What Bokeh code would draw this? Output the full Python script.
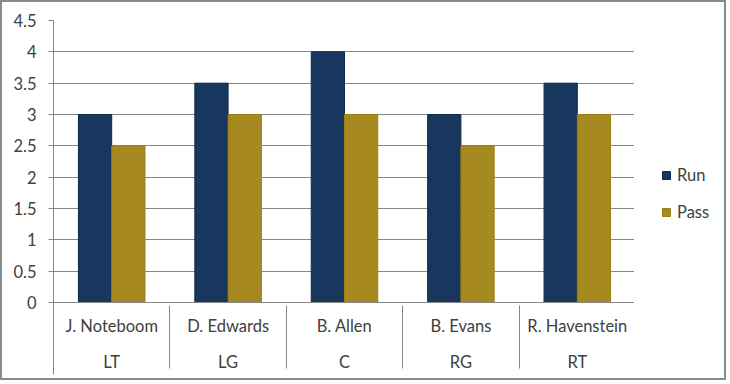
from bokeh.plotting import figure
from bokeh.layouts import row
from bokeh.models import (FactorRange, Range1d, LinearAxis, CategoricalAxis, FixedTicker,
                          NumeralTickFormatter, Legend, LegendItem, ColumnDataSource, Grid)
from bokeh.transform import dodge
from bokeh.embed import file_html
from bokeh.resources import INLINE

# ---- data ----
players = ["J. Noteboom", "D. Edwards", "B. Allen", "B. Evans", "R. Havenstein"]
positions = ["LT", "LG", "C", "RG", "RT"]
run_grades = [3, 3.5, 4, 3, 3.5]
pass_grades = [2.5, 3, 3, 2.5, 3]
series_names = ["Run", "Pass"]
y_ticks = [0, 0.5, 1, 1.5, 2, 2.5, 3, 3.5, 4, 4.5]

# ---- style ----
FONT = "Lato"
FS = "16.5px"
TXT = "#404040"
GRAY = "#868686"
BORDER = "2px solid #8a8a8a"
RUN_FILL, RUN_EDGE = "#17375E", "#0E2950"
PASS_FILL, PASS_EDGE = "#A6891F", "#9A7E12"
W = 1 / 3.5

factors = list(zip(positions, players))
src = ColumnDataSource(dict(x=factors, run=run_grades, pas=pass_grades))

# ---------------- main chart ----------------
p = figure(width=634, height=380,
           x_range=FactorRange(factors=factors, group_padding=0, factor_padding=0, range_padding=0),
           y_range=Range1d(0, y_ticks[-1]),
           output_backend="svg", toolbar_location=None,
           x_axis_location=None, y_axis_location=None,
           min_border_left=51, min_border_right=1, min_border_top=18, min_border_bottom=80,
           background_fill_color="white", border_fill_color="white", outline_line_color=None)
p.styles = {"border-left": BORDER, "border-top": BORDER, "border-bottom": BORDER}
p.center = [r for r in p.center if not isinstance(r, Grid)]

grid = Grid(dimension=1, ticker=FixedTicker(ticks=y_ticks), grid_line_color=GRAY, grid_line_width=1)
p.add_layout(grid)

yax = LinearAxis(ticker=FixedTicker(ticks=y_ticks), formatter=NumeralTickFormatter(format="0.[0]"),
                 axis_line_color=GRAY, major_tick_line_color=GRAY, major_tick_out=5, major_tick_in=0,
                 minor_tick_line_color=None, major_label_standoff=12,
                 major_label_text_font=FONT, major_label_text_font_size=FS,
                 major_label_text_color=TXT)
p.add_layout(yax, "left")

xax = CategoricalAxis(axis_line_color=GRAY, major_tick_line_color=None, major_tick_in=0,
                      major_tick_out=0, minor_tick_line_color=None, major_label_standoff=13,
                      major_label_text_font=FONT, major_label_text_font_size=FS,
                      major_label_text_color=TXT,
                      group_text_font=FONT, group_text_font_size=FS, group_text_color=TXT,
                      group_text_font_style="normal",
                      separator_line_color=GRAY, separator_line_width=1)
p.add_layout(xax, "below")

# outer boundary lines of the category table (synthetic coordinates 0 and n)
sep = LinearAxis(ticker=FixedTicker(ticks=[0, len(players)]),
                 axis_line_color=None, major_tick_line_color=GRAY, major_tick_line_width=1,
                 major_tick_in=73, major_tick_out=0, minor_tick_line_color=None,
                 major_label_text_color=None, major_label_standoff=0)
p.add_layout(sep, "below")

p.vbar(x=dodge("x", -W / 2, range=p.x_range), top="run", width=W, source=src,
       fill_color=RUN_FILL, line_color=RUN_EDGE, line_width=1)
p.vbar(x=dodge("x", W / 2, range=p.x_range), top="pas", width=W, source=src,
       fill_color=PASS_FILL, line_color=PASS_EDGE, line_width=1)

# ---------------- legend panel ----------------
# key glyphs reuse the same series but are hidden; only their legend swatches show
lp = figure(width=92, height=380,
            x_range=FactorRange(factors=factors, group_padding=0, factor_padding=0, range_padding=0),
            y_range=Range1d(-2, -1),
            output_backend="svg", toolbar_location=None,
            x_axis_location=None, y_axis_location=None,
            min_border=0, min_border_left=0, min_border_right=0, min_border_top=0,
            min_border_bottom=0, background_fill_color="white", border_fill_color="white",
            outline_line_color=None)
lp.styles = {"border-right": BORDER, "border-top": BORDER, "border-bottom": BORDER}
lp.center = [r for r in lp.center if not isinstance(r, Grid)]
k1 = lp.vbar(x=dodge("x", -W / 2, range=lp.x_range), top="run", width=W, source=src,
             fill_color=RUN_FILL, line_color=RUN_EDGE, line_width=1)
k2 = lp.vbar(x=dodge("x", W / 2, range=lp.x_range), top="pas", width=W, source=src,
             fill_color=PASS_FILL, line_color=PASS_EDGE, line_width=1)
k1.visible = False
k2.visible = False

leg = Legend(items=[LegendItem(label=series_names[0], renderers=[k1]),
                    LegendItem(label=series_names[1], renderers=[k2])],
             location=(27, 80), orientation="vertical", padding=0, spacing=17, margin=0,
             glyph_width=10, glyph_height=10, label_standoff=6, label_height=20,
             label_text_font=FONT, label_text_font_size=FS, label_text_color=TXT,
             inactive_fill_alpha=0,
             background_fill_alpha=0, border_line_color=None)
lp.add_layout(leg)

layout = row(p, lp, spacing=0)
open("out.html", "w").write(file_html(layout, INLINE))
